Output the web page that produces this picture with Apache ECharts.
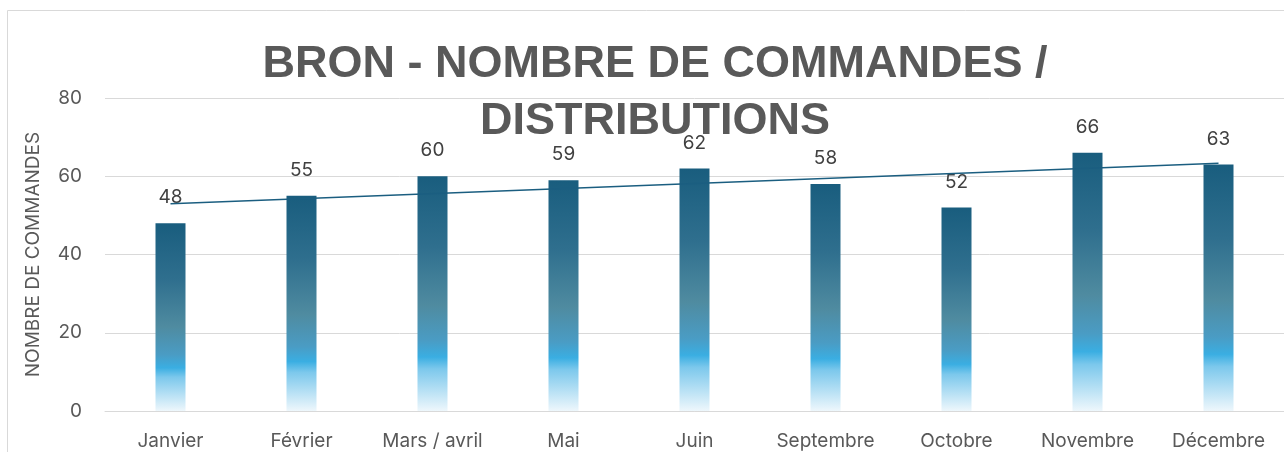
<!DOCTYPE html>
<html>
<head>
<meta charset="utf-8">
<script src="https://cdn.jsdelivr.net/npm/echarts@6/dist/echarts.min.js"></script>
<style>
  html, body { margin: 0; padding: 0; background: #ffffff; }
  #chart { width: 1284px; height: 452px; }
</style>
</head>
<body>
<div id="chart"></div>
<script>
// categories & values
const months = ['Janvier', 'Février', 'Mars / avril', 'Mai', 'Juin', 'Septembre', 'Octobre', 'Novembre', 'Décembre']
const commandes = [48, 55, 60, 59, 62, 58, 52, 66, 63]
// linear trend line, ends
const trendStart = 53.0
const trendEnd = 63.3
const yTicks = [0, 20, 40, 60, 80]

const trend = months.map((m, i) => {
  if (i === 0) return trendStart
  if (i === months.length - 1) return trendEnd
  return null
})

const txtFont = 'Inter'

const chart = echarts.init(document.getElementById('chart'))

chart.setOption({
  animation: false,
  title: {
    text: 'BRON - NOMBRE DE COMMANDES /\nDISTRIBUTIONS',
    left: 650,
    textAlign: 'center',
    top: 31,
    textStyle: {
      color: '#595959',
      fontFamily: 'Liberation Sans',
      fontWeight: 'bold',
      fontSize: 45,
      lineHeight: 57
    }
  },
  graphic: [
    {
      type: 'rect',
      shape: { x: 7.5, y: 10.5, width: 1300, height: 500 },
      style: { fill: 'none', stroke: '#d9d9d9', lineWidth: 1 },
      silent: true,
      z: -10
    }
  ],
  grid: {
    left: 105,
    top: 98,
    width: 1188,
    height: 313
  },
  xAxis: {
    type: 'category',
    data: months,
    axisTick: { show: false },
    axisLine: { lineStyle: { color: '#d9d9d9', width: 1 } },
    axisLabel: {
      color: '#595959',
      fontFamily: txtFont,
      fontSize: 19,
      margin: 21
    }
  },
  yAxis: {
    type: 'value',
    min: yTicks[0],
    max: yTicks[yTicks.length - 1],
    interval: 20,
    name: 'NOMBRE DE COMMANDES',
    nameLocation: 'middle',
    nameRotate: 90,
    nameGap: 62,
    nameTextStyle: {
      color: '#595959',
      fontFamily: txtFont,
      fontSize: 19
    },
    axisLine: { show: false },
    axisTick: { show: false },
    axisLabel: {
      color: '#595959',
      fontFamily: txtFont,
      fontSize: 19,
      margin: 23
    },
    splitLine: { lineStyle: { color: '#d9d9d9', width: 1 } }
  },
  series: [
    {
      name: 'Commandes',
      type: 'bar',
      data: commandes,
      barWidth: 30,
      itemStyle: {
        color: new echarts.graphic.LinearGradient(0, 0, 0, 1, [
          { offset: 0, color: '#195d7e' },
          { offset: 0.3, color: '#2f6f8e' },
          { offset: 0.55, color: '#4f8ba0' },
          { offset: 0.7, color: '#4a9cc4' },
          { offset: 0.77, color: '#3aaee2' },
          { offset: 0.82, color: '#7cc8ec' },
          { offset: 1, color: '#eef7fc' }
        ])
      },
      label: {
        show: true,
        position: 'top',
        distance: 16,
        color: '#404040',
        fontFamily: txtFont,
        fontSize: 19
      },
      z: 2
    },
    {
      name: 'Tendance',
      type: 'line',
      data: trend,
      connectNulls: true,
      symbol: 'none',
      lineStyle: { color: '#1b5e80', width: 1.5 },
      z: 3
    }
  ]
})
</script>
</body>
</html>
